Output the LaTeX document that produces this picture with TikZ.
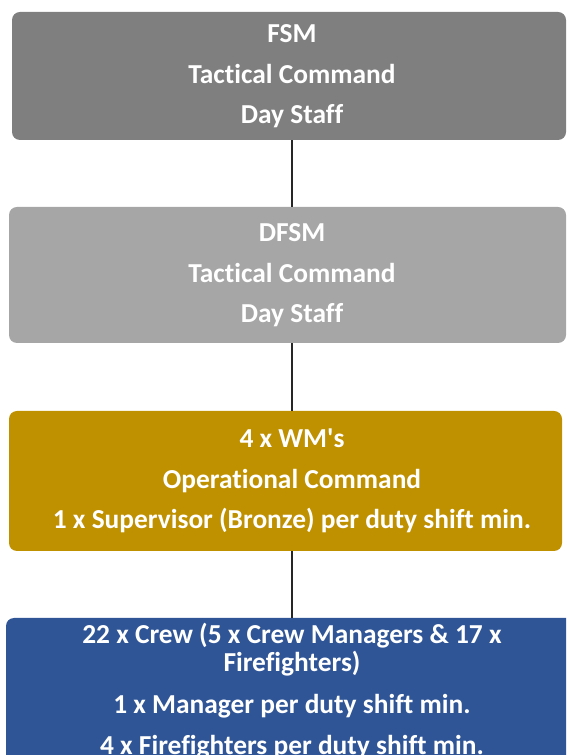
\documentclass[tikz,border=0pt]{standalone}
\usepackage{fontspec}
\setmainfont{Carlito}[Ligatures={TeXOff,NoCommon}]
\definecolor{fsmgray}{HTML}{7F7F7F}
\definecolor{dfsmgray}{HTML}{A6A6A6}
\definecolor{wmgold}{HTML}{BF9000}
\definecolor{crewblue}{HTML}{2F5597}
\definecolor{linkdark}{HTML}{262626}
\tikzset{
  box/.style={rectangle, rounded corners=8pt, inner sep=0pt, draw=none},
  label/.style={anchor=base, text=white, font=\fontsize{27.4}{32}\selectfont\bfseries, inner sep=0pt},
  link/.style={draw=linkdark, line width=2pt}
}
\begin{document}
\begin{tikzpicture}[x=1pt, y=1pt]
\useasboundingbox (0,0) rectangle (566,755);
\clip (0,0) rectangle (566,755);

% level boxes
\node[box, fill=fsmgray,  minimum width=554pt, minimum height=128pt] (b1) at (289,679) {};
\node[box, fill=dfsmgray, minimum width=557pt, minimum height=136pt] (b2) at (287.5,480) {};
\node[box, fill=wmgold,   minimum width=553pt, minimum height=140pt] (b3) at (285.5,274) {};
\node[box, fill=crewblue, minimum width=574pt, minimum height=172pt] (b4) at (293,51) {};

% spine of the chart
\coordinate (spine) at (292,0);
\draw[link] (b1.south -| spine) -- (b2.north -| spine);
\draw[link] (b2.south -| spine) -- (b3.north -| spine);
\draw[link] (b3.south -| spine) -- (b4.north -| spine);

% texts
\node[label] (t11) at (292,712) {FSM};
\node[label] (t12) at (292,671) {Tactical Command};
\node[label] (t13) at (292,631) {Day Staff};

\node[label] (t21) at (292,513) {DFSM};
\node[label] (t22) at (292,472) {Tactical Command};
\node[label] (t23) at (292,432) {Day Staff};

\node[label] (t31) at (292,307) {4 x WM's};
\node[label] (t32) at (292,266) {Operational Command};
\node[label] (t33) at (292,226) {1 x Supervisor (Bronze) per duty shift min.};

\node[label] (t41) at (292,111) {22 x Crew (5 x Crew Managers \& 17 x};
\node[label] (t42) at (292,83) {Firefighters)};
\node[label] (t43) at (292,41) {1 x Manager per duty shift min.};
\node[label] (t44) at (292,0) {4 x Firefighters per duty shift min.};
\end{tikzpicture}
\end{document}
